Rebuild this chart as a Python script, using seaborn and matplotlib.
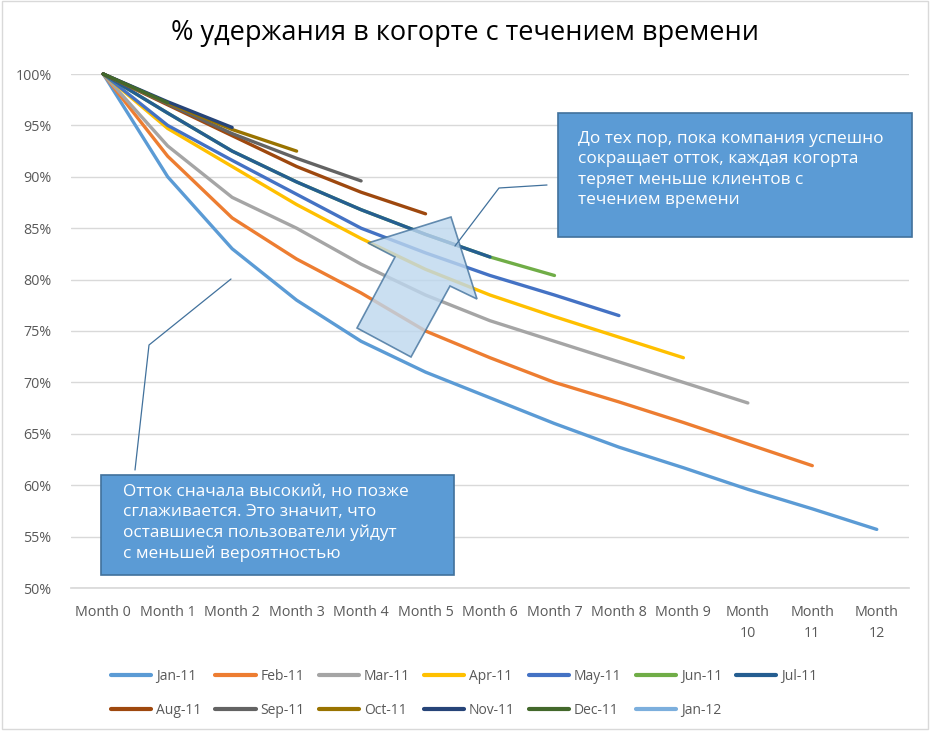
import pandas as pd
import matplotlib.pyplot as plt
import seaborn as sns
from matplotlib.lines import Line2D
from matplotlib.patches import Rectangle, Polygon

# Retention values per cohort (percent)
months = ["Month 0", "Month 1", "Month 2", "Month 3", "Month 4", "Month 5", "Month 6",
          "Month 7", "Month 8", "Month 9", "Month 10", "Month 11", "Month 12"]
cohorts = ["Jan-11", "Feb-11", "Mar-11", "Apr-11", "May-11", "Jun-11", "Jul-11",
           "Aug-11", "Sep-11", "Oct-11", "Nov-11", "Dec-11", "Jan-12"]

jan_11 = [100, 90, 83, 78, 74, 71, 68.5, 66, 63.7, 61.7, 59.6, 57.7, 55.7]
feb_11 = [100, 92, 86, 82, 78.7, 75, 72.4, 70, 68.1, 66.1, 64, 61.9]
mar_11 = [100, 93, 88, 85, 81.5, 78.5, 76, 74, 72, 70, 68]
apr_11 = [100, 94.7, 91, 87.3, 84, 81, 78.5, 76.4, 74.4, 72.4]
may_11 = [100, 95, 91.6, 88.3, 85, 82.6, 80.4, 78.5, 76.5]
jun_11 = [100, 96.2, 92.5, 89.5, 86.8, 84.4, 82.2, 80.4]
jul_11 = [100, 96.2, 92.5, 89.5, 86.8, 84.4, 82.2]
aug_11 = [100, 97, 94, 91, 88.5, 86.4]
sep_11 = [100, 97.1, 94.2, 91.8, 89.6]
oct_11 = [100, 97.2, 94.6, 92.5]
nov_11 = [100, 97.3, 94.8]
dec_11 = [100, 97.2]
jan_12 = [100]

series = [jan_11, feb_11, mar_11, apr_11, may_11, jun_11, jul_11,
          aug_11, sep_11, oct_11, nov_11, dec_11, jan_12]

colors = ["#5B9BD5", "#ED7D31", "#A5A5A5", "#FFC000", "#4472C4", "#70AD47", "#255E91",
          "#9E480E", "#636363", "#997300", "#264478", "#43682B", "#7CAFDD"]
palette = dict(zip(cohorts, colors))

yticks = [50, 55, 60, 65, 70, 75, 80, 85, 90, 95, 100]

title = "% удержания в когорте с течением времени"
note_left = ("Отток сначала высокий, но позже\nсглаживается. Это значит, что\n"
             "оставшиеся пользователи уйдут\nс меньшей вероятностью")
note_right = ("До тех пор, пока компания успешно\nсокращает отток, каждая когорта\n"
              "теряет меньше клиентов с\nтечением времени")

rows = []
for name, vals in zip(cohorts, series):
    for i, v in enumerate(vals):
        rows.append({"cohort": name, "month": i, "retention": v})
df = pd.DataFrame(rows)

sns.set_theme(style="white")
plt.rcParams["font.family"] = ["Open Sans", "DejaVu Sans"]

W, H = 930, 734
fig = plt.figure(figsize=(W / 100, H / 100), dpi=100)


def fx(x, y):
    return x / W, 1 - y / H


# plot area: x 71..909, y 74..588 (pixels)
ax = fig.add_axes([71 / W, 1 - 588 / H, (909 - 71) / W, (588 - 74) / H])
sns.lineplot(data=df, x="month", y="retention", hue="cohort", hue_order=cohorts,
             palette=palette, linewidth=2.4, sort=False, legend=False, ax=ax)
for ln in ax.lines:
    ln.set_clip_on(False)
    ln.set_solid_capstyle("round")

ax.set_xlim(-0.5, len(months) - 0.5)
ax.set_ylim(50, 100)
ax.set_yticks(yticks)
ax.set_yticklabels([f"{t}%" for t in yticks])
ax.set_xticks(range(len(months)))
ax.set_xticklabels([m.replace(" ", "\n") if len(m) > 7 else m for m in months],
                   linespacing=1.6)
ax.set_xticks([i - 0.5 for i in range(len(months) + 1)], minor=True)
ax.tick_params(axis="x", which="major", length=0, pad=12, labelsize=10.3, labelcolor="#595959")
ax.tick_params(axis="x", which="minor", length=5, color="#D9D9D9", width=1)
ax.tick_params(axis="y", length=0, pad=14, labelsize=10.3, labelcolor="#595959")
ax.set_xlabel("")
ax.set_ylabel("")
ax.grid(axis="y", color="#D9D9D9", linewidth=1)
for s in ["left", "right", "top"]:
    ax.spines[s].set_visible(False)
ax.spines["bottom"].set_color("#D9D9D9")
ax.set_axisbelow(True)

fig.text(*fx(465, 33), title, ha="center", va="center", fontsize=19.5, color="#000000")

# legend laid out row by row like the original (matplotlib fills by column)
order = [0, 7, 1, 8, 2, 9, 3, 10, 4, 11, 5, 12, 6]
handles = [Line2D([0], [0], color=colors[i], lw=3) for i in order]
labels = [cohorts[i] for i in order]
fig.legend(handles, labels, ncol=7, loc="upper left", bbox_to_anchor=fx(104, 662),
           frameon=False, fontsize=10, handlelength=2.9, handletextpad=0.35,
           columnspacing=1.0, labelspacing=1.35, borderpad=0, labelcolor="#595959")

# callout boxes
box_kw = dict(transform=fig.transFigure, facecolor="#5B9BD5", edgecolor="#41719C", lw=1.2)
x0, y0 = fx(101, 575)
fig.patches.append(Rectangle((x0, y0), (454 - 101) / W, (575 - 475) / H, **box_kw))
fig.text(*fx(123, 484), note_left, ha="left", va="top", fontsize=12.4, color="white",
         linespacing=1.36)
x0, y0 = fx(558, 237)
fig.patches.append(Rectangle((x0, y0), (912 - 558) / W, (237 - 113) / H, **box_kw))
fig.text(*fx(578, 131), note_right, ha="left", va="top", fontsize=12.4, color="white",
         linespacing=1.36)

# leader lines
lead_kw = dict(transform=fig.transFigure, color="#41719C", lw=0.9)
pts = [fx(135, 470), fx(149, 345), fx(231, 279)]
fig.lines.append(Line2D([p[0] for p in pts], [p[1] for p in pts], **lead_kw))

# block arrow
arrow = [(451, 217), (477, 299), (450, 286), (411, 357), (357, 328), (395, 257), (368, 243)]
fig.patches.append(Polygon([fx(*p) for p in arrow], closed=True, transform=fig.transFigure,
                           facecolor="#BDD7EE", edgecolor="#41719C", lw=1.2, alpha=0.8))

pts = [fx(547, 185), fx(499, 188), fx(455, 246)]
fig.lines.append(Line2D([p[0] for p in pts], [p[1] for p in pts], **lead_kw))

# chart border
fig.patches.append(Rectangle(fx(2, 729), (928 - 2) / W, (729 - 1) / H, transform=fig.transFigure,
                             fill=False, edgecolor="#D9D9D9", lw=1))

fig.savefig("out.png", dpi=100)
